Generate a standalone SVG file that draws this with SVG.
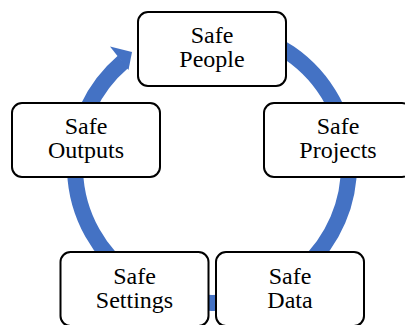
<svg xmlns="http://www.w3.org/2000/svg" width="405" height="325" viewBox="0 0 405 325">
  <style>
    .box { fill: #ffffff; stroke: #000000; stroke-width: 2; }
    .label { font-family: "Liberation Serif", "Times New Roman", serif; font-size: 24px; fill: #000000; text-anchor: middle; }
    .ring { fill: none; stroke: #4472C4; stroke-width: 16; stroke-linecap: butt; }
    .head { fill: #4472C4; }
  </style>
  <rect width="405" height="325" fill="#ffffff"/>

  <!-- circular cycle arrow -->
  <g id="connectors">
    <path class="ring" d="M 235.8 31.1 A 137 137 0 1 1 123.0 61.8"/>
    <polygon class="head" points="110,46.5 132,52 128.5,70"/>
  </g>

  <g id="safe-people">
    <rect class="box" x="138" y="12" width="148" height="74" rx="10"/>
    <text class="label" x="212" y="43">Safe</text>
    <text class="label" x="212" y="67">People</text>
  </g>

  <g id="safe-projects">
    <rect class="box" x="264" y="103" width="148" height="74" rx="10"/>
    <text class="label" x="338" y="134">Safe</text>
    <text class="label" x="338" y="158">Projects</text>
  </g>

  <g id="safe-data">
    <rect class="box" x="216" y="252" width="148" height="74" rx="10"/>
    <text class="label" x="290" y="284">Safe</text>
    <text class="label" x="290" y="308">Data</text>
  </g>

  <g id="safe-settings">
    <rect class="box" x="60.5" y="252" width="148" height="74" rx="10"/>
    <text class="label" x="134.5" y="284">Safe</text>
    <text class="label" x="134.5" y="308">Settings</text>
  </g>

  <g id="safe-outputs">
    <rect class="box" x="12" y="103" width="148" height="74" rx="10"/>
    <text class="label" x="86" y="134">Safe</text>
    <text class="label" x="86" y="158">Outputs</text>
  </g>
</svg>
